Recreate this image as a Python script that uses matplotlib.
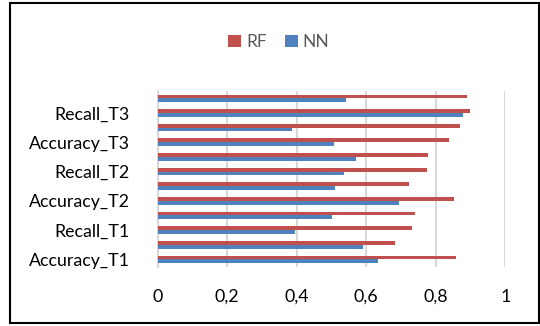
import numpy as np
import matplotlib.pyplot as plt
from matplotlib.patches import Rectangle

plt.rcParams['font.family'] = ['Lato', 'DejaVu Sans']

# data (bottom to top)
labels = ['Accuracy_T1', '', 'Recall_T1', '', 'Accuracy_T2', '',
          'Recall_T2', '', 'Accuracy_T3', '', 'Recall_T3', '']
rf = [0.858, 0.683, 0.731, 0.741, 0.852, 0.724, 0.775, 0.777, 0.838, 0.871, 0.898, 0.889]
nn = [0.634, 0.591, 0.394, 0.502, 0.695, 0.510, 0.535, 0.572, 0.507, 0.386, 0.878, 0.542]
xticks = [0, 0.2, 0.4, 0.6, 0.8, 1]
xticklabels = ['0', '0,2', '0,4', '0,6', '0,8', '1']

fig = plt.figure(figsize=(5.4, 3.26), dpi=100)
ax = fig.add_axes([0.2917, 0.1819, 0.644, 0.539])

y = np.arange(len(labels))
h = 0.26
ax.barh(y + h / 2, rf, height=h, color='#C0504D', label='RF', zorder=3)
ax.barh(y - h / 2, nn, height=h, color='#4F81BD', label='NN', zorder=3)

ax.set_xlim(0, 1)
ax.set_ylim(-0.5, len(labels) - 0.5)
ax.set_xticks(xticks)
ax.set_xticklabels(xticklabels)
ax.set_yticks(y)
ax.set_yticklabels(labels)
ax.grid(axis='x', color='#D9D9D9', lw=1.5, zorder=0)
ax.tick_params(length=0, labelsize=12.8, labelcolor='#000000')
ax.tick_params(axis='x', pad=16)
ax.tick_params(axis='y', pad=20)
for s in ['top', 'right', 'bottom']:
  ax.spines[s].set_visible(False)
ax.spines['left'].set_color('#D9D9D9')
ax.spines['left'].set_linewidth(1.5)

fig.legend(loc='center', bbox_to_anchor=(279 / 540, 1 - 42 / 326), ncol=2,
           frameon=False, fontsize=12.5, handlelength=0.75, handleheight=0.75,
           handletextpad=0.3, columnspacing=1.0, labelcolor='#595959')

fig.patches.append(Rectangle((10 / 540, 3 / 326), 529 / 540, 320 / 326,
                             transform=fig.transFigure, fill=False,
                             edgecolor='black', lw=1.5))

fig.savefig('out.png', dpi=100)
